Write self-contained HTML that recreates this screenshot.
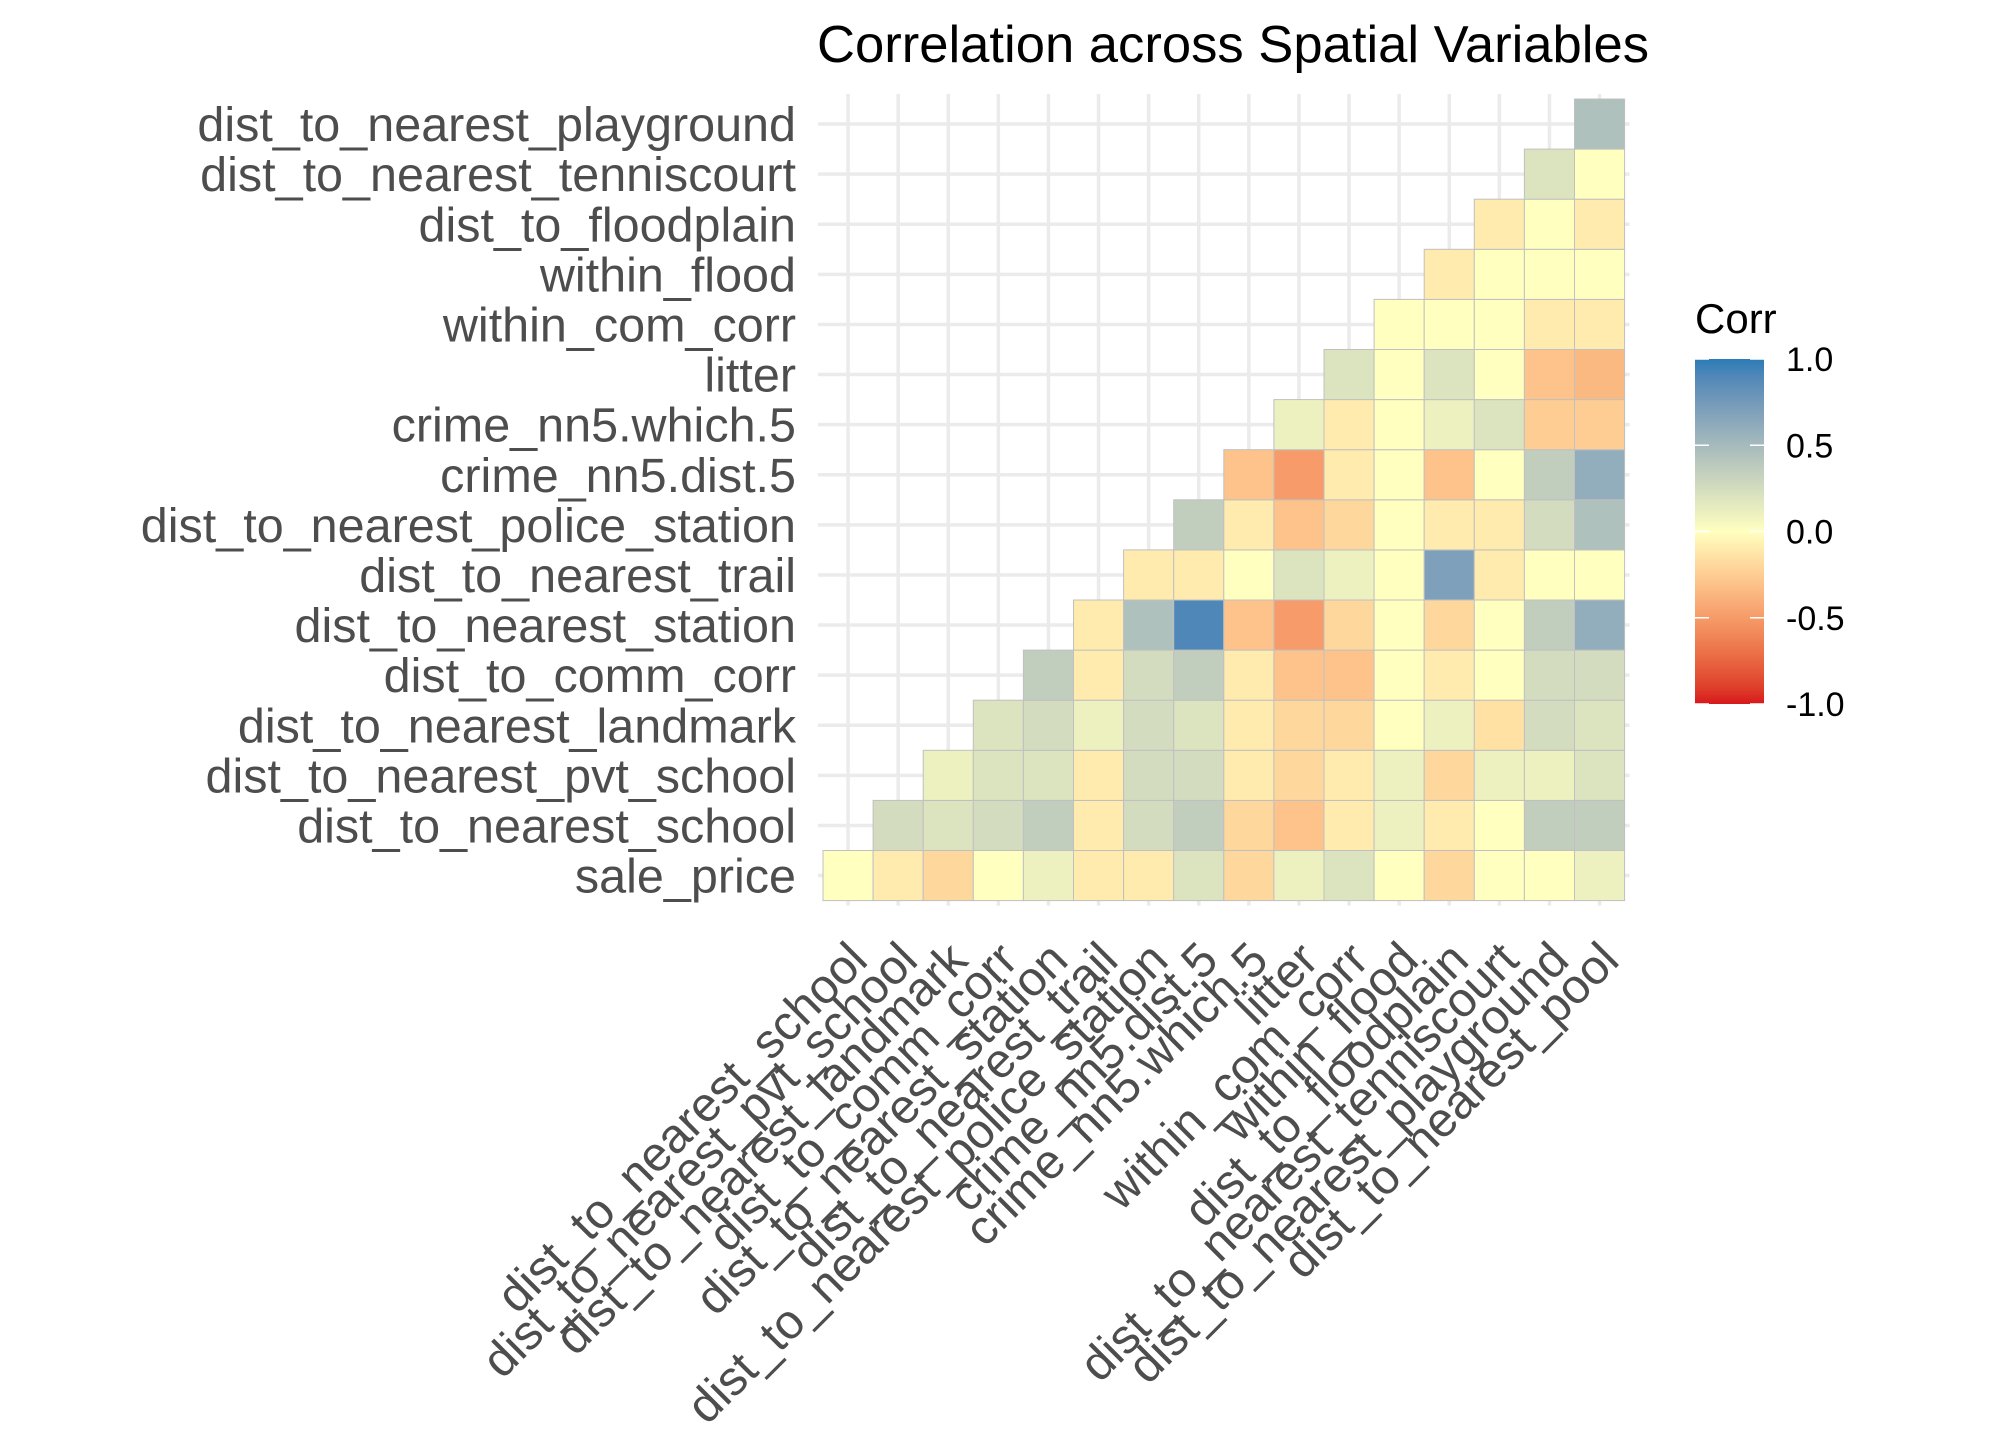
<!DOCTYPE html>
<html><head><meta charset="utf-8"><style>
html,body{margin:0;padding:0;background:#fff;}
svg{display:block;font-family:"Liberation Sans",Arial,sans-serif;}
</style></head><body>
<svg id="chart" width="2016" height="1440" viewBox="0 0 2016 1440" xmlns="http://www.w3.org/2000/svg">
<rect width="2016" height="1440" fill="#fff"/>
<text x="817" y="62" font-size="52" textLength="832" lengthAdjust="spacingAndGlyphs" fill="#000">Correlation across Spatial Variables</text>
<g id="grid"></g>
<g id="tiles"></g>
<g id="ylab"></g>
<g id="xlab"></g>
<g id="legend">
<text x="1695" y="333" font-size="42" fill="#000">Corr</text>
</g>
</svg>
<script>
const rowVars = ["sale_price","dist_to_nearest_school","dist_to_nearest_pvt_school","dist_to_nearest_landmark","dist_to_comm_corr","dist_to_nearest_station","dist_to_nearest_trail","dist_to_nearest_police_station","crime_nn5.dist.5","crime_nn5.which.5","litter","within_com_corr","within_flood","dist_to_floodplain","dist_to_nearest_tenniscourt","dist_to_nearest_playground"];
const colVars = ["dist_to_nearest_school","dist_to_nearest_pvt_school","dist_to_nearest_landmark","dist_to_comm_corr","dist_to_nearest_station","dist_to_nearest_trail","dist_to_nearest_police_station","crime_nn5.dist.5","crime_nn5.which.5","litter","within_com_corr","within_flood","dist_to_floodplain","dist_to_nearest_tenniscourt","dist_to_nearest_playground","dist_to_nearest_pool"];
// each row starts at column index = row index
const corrSalePrice = [0,-0.1,-0.2,0,0.1,-0.1,-0.1,0.2,-0.2,0.1,0.2,0,-0.2,0,0,0.1];
const corrSchool = [0.25,0.2,0.25,0.35,-0.1,0.25,0.35,-0.2,-0.3,-0.1,0.1,-0.1,0,0.35,0.35];
const corrPvtSchool = [0.1,0.2,0.2,-0.1,0.25,0.25,-0.1,-0.2,-0.1,0.1,-0.2,0.1,0.1,0.2];
const corrLandmark = [0.2,0.25,0.1,0.25,0.2,-0.1,-0.2,-0.2,0,0.1,-0.15,0.25,0.2];
const corrCommCorr = [0.35,-0.1,0.25,0.35,-0.1,-0.3,-0.3,0,-0.1,0,0.25,0.25];
const corrStation = [-0.1,0.45,0.9,-0.3,-0.5,-0.2,0,-0.2,0,0.35,0.6];
const corrTrail = [-0.1,-0.1,0,0.2,0.1,0,0.7,-0.1,0,0];
const corrPolice = [0.35,-0.1,-0.3,-0.2,0,-0.1,-0.1,0.25,0.45];
const corrCrimeDist = [-0.3,-0.5,-0.1,0,-0.3,0,0.35,0.6];
const corrCrimeWhich = [0.1,-0.1,0,0.1,0.2,-0.25,-0.25];
const corrLitter = [0.2,0,0.2,0,-0.3,-0.35];
const corrWithinComCorr = [0,0,0,-0.1,-0.1];
const corrWithinFlood = [-0.1,0,0,0];
const corrFloodplain = [-0.1,0,-0.1];
const corrTenniscourt = [0.2,0];
const corrPlayground = [0.45];
const corrRows = [corrSalePrice,corrSchool,corrPvtSchool,corrLandmark,corrCommCorr,corrStation,corrTrail,corrPolice,corrCrimeDist,corrCrimeWhich,corrLitter,corrWithinComCorr,corrWithinFlood,corrFloodplain,corrTenniscourt,corrPlayground];
const legendTicks = [1.0,0.5,0.0,-0.5,-1.0];
const legendTickLabels = ["1.0","0.5","0.0","-0.5","-1.0"];

const NS="http://www.w3.org/2000/svg";
const X0=823, Y0=99, CELL=50.1, N=16;
const xScale = c => X0 + c*CELL;
const yScale = r => Y0 + (N-1-r)*CELL;
function mk(tag, attrs, parent){const e=document.createElementNS(NS,tag);for(const k in attrs)e.setAttribute(k,attrs[k]);parent.appendChild(e);return e;}

function hex2rgb(h){return [1,3,5].map(i=>parseInt(h.substr(i,2),16)/255);}
function lin(c){return c<=0.04045?c/12.92:Math.pow((c+0.055)/1.055,2.4);}
function unlin(c){return c<=0.0031308?12.92*c:1.055*Math.pow(c,1/2.4)-0.055;}
function rgb2lab(rgb){const [r,g,b]=rgb.map(lin);let x=(0.4124*r+0.3576*g+0.1805*b)/0.95047,y=0.2126*r+0.7152*g+0.0722*b,z=(0.0193*r+0.1192*g+0.9505*b)/1.08883;const f=t=>t>0.008856?Math.cbrt(t):7.787*t+16/116;const fx=f(x),fy=f(y),fz=f(z);return [116*fy-16,500*(fx-fy),200*(fy-fz)];}
function lab2rgb(l){const fy=(l[0]+16)/116,fx=fy+l[1]/500,fz=fy-l[2]/200;const fi=t=>t*t*t>0.008856?t*t*t:(t-16/116)/7.787;const x=fi(fx)*0.95047,y=fi(fy),z=fi(fz)*1.08883;let r=3.2406*x-1.5372*y-0.4986*z,g=-0.9689*x+1.8758*y+0.0415*z,b=0.0557*x-0.2040*y+1.0570*z;return [r,g,b].map(c=>Math.round(Math.max(0,Math.min(1,unlin(c)))*255));}
const LOW=rgb2lab(hex2rgb("#d7191c")),MID=rgb2lab(hex2rgb("#ffffbf")),HIGH=rgb2lab(hex2rgb("#2c7bb6"));
function colorFor(v){const t=Math.abs(v);const end=v>=0?HIGH:LOW;const l=MID.map((m,i)=>m+(end[i]-m)*t);const c=lab2rgb(l);return `rgb(${c[0]},${c[1]},${c[2]})`;}

const grid=document.getElementById('grid');
for(let i=0;i<N;i++){
  const cx=xScale(i)+CELL/2;
  const v=mk('line',{x1:cx,x2:cx,y1:Y0-5,y2:Y0+N*CELL+5,stroke:'#ebebeb','stroke-width':3.5},grid);
  
  
  const cy=yScale(i)+CELL/2;
  const h=mk('line',{x1:X0-5,x2:X0+N*CELL+5,y1:cy,y2:cy,stroke:'#ebebeb','stroke-width':3.5},grid);
  
  
}
const tiles=document.getElementById('tiles');
corrRows.forEach((vals,r)=>{vals.forEach((v,k)=>{const c=r+k;
  const t=mk('rect',{x:xScale(c),y:yScale(r),width:CELL,height:CELL,fill:colorFor(v),stroke:'#c0c0c0','stroke-width':1},tiles);
  
  
});});
const ylab=document.getElementById('ylab');
rowVars.forEach((name,r)=>{const t=mk('text',{x:796,y:yScale(r)+CELL/2+17,'font-size':48.5,'text-anchor':'end',fill:'#4d4d4d'},ylab);t.textContent=name;
  
  });
const xlab=document.getElementById('xlab');
colVars.forEach((name,c)=>{const cx=xScale(c)+CELL/2-3;const t=mk('text',{transform:`translate(${cx},938) rotate(-45)`,'font-size':48.5,'text-anchor':'end',dy:'0.72em',fill:'#4d4d4d'},xlab);t.textContent=name;
  
  });
const lg=document.getElementById('legend');
const LX=1695,LW=69,LT=359,LB=704;
const ly=v=>LB-(v+1)/2*(LB-LT);
const defs=mk('defs',{},lg);const gr=mk('linearGradient',{id:'lgGrad',x1:0,y1:1,x2:0,y2:0},defs);
for(let i=0;i<=20;i++){const v=-1+i/10;mk('stop',{offset:(i/20),'stop-color':colorFor(v)},gr);}
const bar=mk('rect',{x:LX,y:LT,width:LW,height:LB-LT,fill:'url(#lgGrad)'},lg);


legendTicks.forEach((v,i)=>{const y=ly(v);
  mk('line',{x1:LX,x2:LX+14,y1:y,y2:y,stroke:'#fff','stroke-width':1.5},lg);
  mk('line',{x1:LX+LW-14,x2:LX+LW,y1:y,y2:y,stroke:'#fff','stroke-width':1.5},lg);
  const t=mk('text',{x:1786,y:y+12,'font-size':34,fill:'#000'},lg);t.textContent=legendTickLabels[i];
  
  });
</script>
</body></html>
